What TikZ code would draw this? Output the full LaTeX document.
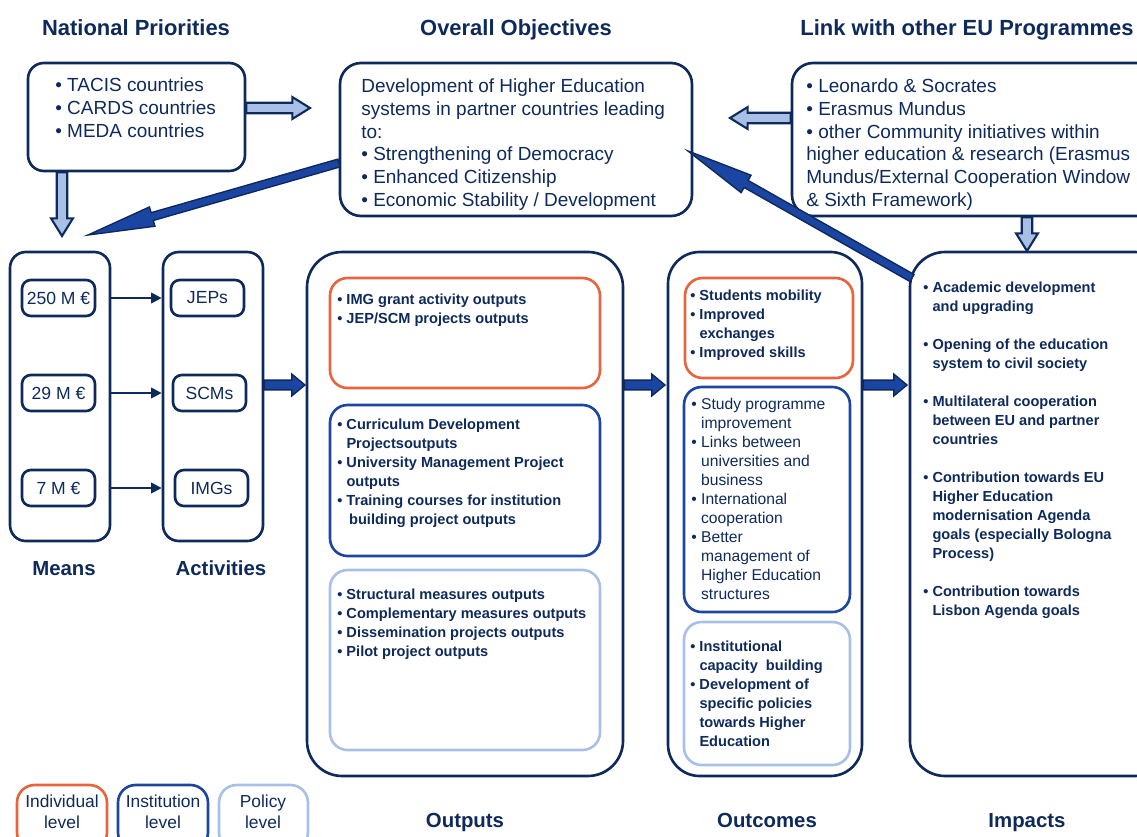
\documentclass[tikz,border=0pt]{standalone}
\usepackage{fontspec}
\setmainfont{Liberation Sans}
\usetikzlibrary{calc,fit,arrows.meta}

\definecolor{navy}{HTML}{0E2A5A}
\definecolor{indiv}{HTML}{E8643C}
\definecolor{instit}{HTML}{1E46A0}
\definecolor{policy}{HTML}{A9C0E6}
\definecolor{darkfill}{HTML}{1B45A3}
\definecolor{lightfill}{HTML}{A9C0E6}

% block arrow: style, from, to, half shaft, half head, head length
\newcommand{\blockarrow}[6]{%
  \coordinate (ba) at ($(#3)!#6!(#2)$);
  \draw[#1] ($(#2)!#4!90:(#3)$) -- ($(ba)!#4!90:(#3)$) -- ($(ba)!#5!90:(#3)$) -- (#3)
    -- ($(ba)!#5!-90:(#3)$) -- ($(ba)!#4!-90:(#3)$) -- ($(#2)!#4!-90:(#3)$) -- cycle;}
\newcommand{\bul}{\textbullet\ }
\newcommand{\ind}{\phantom{\textbullet\ }}

\begin{document}
\begin{tikzpicture}[x=0.02cm,y=-0.02cm,
  every node/.style={text=navy},
  title/.style={anchor=base,font=\fontsize{12.5}{15}\selectfont\bfseries},
  footer/.style={anchor=base,font=\fontsize{11.6}{14}\selectfont\bfseries},
  main box/.style={draw=navy,line width=1.5pt,rounded corners=9pt,inner sep=0pt},
  level box/.style={draw=#1,line width=1.5pt,rounded corners=10pt,inner sep=0pt},
  small box/.style={draw=navy,line width=1.5pt,rounded corners=5pt,minimum width=1.46cm,minimum height=0.72cm,inner sep=0pt,font=\fontsize{10}{12}\selectfont},
  list/.style={anchor=base west,align=left,inner sep=0pt,font=\fontsize{10.8}{12.9}\selectfont},
  small list/.style={anchor=base west,align=left,inner sep=0pt,font=\fontsize{8.3}{10.8}\selectfont\bfseries},
  legend/.style={align=center,inner sep=0pt,font=\fontsize{9.9}{12}\selectfont},
  light arrow/.style={fill=lightfill,draw=navy,line width=1.2pt},
  dark arrow/.style={fill=darkfill,draw=navy,line width=0.8pt},
  thin arrow/.style={draw=navy,line width=1.1pt,-{Triangle[length=6pt,width=6pt]}}]
  \useasboundingbox (0,0) rectangle (1137,836);
  \clip (0,0) rectangle (1137,836);

  % titles
  \node[title] (t1) at (136,35) {National Priorities};
  \node[title] (t2) at (516,35) {Overall Objectives};
  \node[title] (t3) at (967,35) {Link with other EU Programmes};

  % top row (list nodes sit on the baseline of their last line)
  \node[main box,fit={(28,63) (245,171)}] (natpri) {};
  \node[main box,rounded corners=12pt,fit={(340,63) (692,216)}] (obj) {};
  \node[main box,rounded corners=12pt,fit={(792,63) (1160,216)}] (link) {};
  \node[list] (natpritxt) at (55,137) {\bul TACIS countries\\\bul CARDS countries\\\bul MEDA countries};
  \node[list] (objtxt) at (361,206) {Development of Higher Education\\systems in partner countries leading\\to:\\\bul Strengthening of Democracy\\\bul Enhanced Citizenship\\\bul Economic Stability / Development};
  \node[list] (linktxt) at (806,206) {\bul Leonardo \& Socrates\\\bul Erasmus Mundus\\\bul other Community initiatives within\\higher education \& research (Erasmus\\Mundus/External Cooperation Window\\\& Sixth Framework)};

  % means and activities
  \node[main box,fit={(10,252) (110,541)}] (means) {};
  \node[main box,fit={(163,252) (263,541)}] (acts) {};
  \node[small box] (m1) at (58.5,298) {250 M €};
  \node[small box] (m2) at (58.5,393) {29 M €};
  \node[small box] (m3) at (58.5,488) {7 M €};
  \node[small box] (a1) at (207.5,298) {JEPs};
  \node[small box] (a2) at (209.5,393) {SCMs};
  \node[small box] (a3) at (211.5,488) {IMGs};
  \draw[thin arrow] (m1 -| means.east) -- (m1 -| acts.west);
  \draw[thin arrow] (m2 -| means.east) -- (m2 -| acts.west);
  \draw[thin arrow] (m3 -| means.east) -- (m3 -| acts.west);
  \node[footer] (meanslbl) at (64,575) {Means};
  \node[footer] (actslbl) at (221,575) {Activities};

  % outputs
  \node[main box,rounded corners=20pt,fit={(307,252) (623,776)}] (outputs) {};
  \node[level box=indiv,fit={(330,278) (600,388)}] (outind) {};
  \node[level box=instit,fit={(330,405) (600,556)}] (outinst) {};
  \node[level box=policy,fit={(330,570) (600,750)}] (outpol) {};
  \node[small list] (outindtxt) at (337,323) {\bul IMG grant activity outputs\\\bul JEP/SCM projects outputs};
  \node[small list] (outinsttxt) at (337,524) {\bul Curriculum Development\\\ind Projectsoutputs\\\bul University Management Project\\\ind outputs\\\bul Training courses for institution\\\ind\hspace{1.5pt}building project outputs};
  \node[small list] (outpoltxt) at (337,656) {\bul Structural measures outputs\\\bul Complementary measures outputs\\\bul Dissemination projects outputs\\\bul Pilot project outputs};
  \node[footer] (outputslbl) at (465,827) {Outputs};

  % outcomes
  \node[main box,rounded corners=18pt,fit={(668,252) (862,776)}] (outcomes) {};
  \node[level box=indiv,fit={(685,278) (853,378)}] (ocind) {};
  \node[level box=instit,fit={(684,387) (850,612)}] (ocinst) {};
  \node[level box=policy,fit={(684,622) (850,765)}] (ocpol) {};
  \node[small list] (ocindtxt) at (690,357) {\bul Students mobility\\\bul Improved\\\ind exchanges\\\bul Improved skills};
  \node[small list,font=\fontsize{8.9}{10.8}\selectfont] (ocinsttxt) at (691,599) {\bul Study programme\\\ind improvement\\\bul Links between\\\ind universities and\\\ind business\\\bul International\\\ind cooperation\\\bul Better\\\ind management of\\\ind Higher Education\\\ind structures};
  \node[small list] (ocpoltxt) at (690,746) {\bul Institutional\\\ind capacity\ \ building\\\bul Development of\\\ind specific policies\\\ind towards Higher\\\ind Education};
  \node[footer] (outcomeslbl) at (767,827) {Outcomes};

  % impacts
  \node[main box,rounded corners=20pt,fit={(910,252) (1170,776)}] (impacts) {};
  \node[small list] (imptxt) at (923,615) {\bul Academic development\\\ind and upgrading\\[10.8pt]\bul Opening of the education\\\ind system to civil society\\[10.8pt]\bul Multilateral cooperation\\\ind between EU and partner\\\ind countries\\[10.8pt]\bul Contribution towards EU\\\ind Higher Education\\\ind modernisation Agenda\\\ind goals (especially Bologna\\\ind Process)\\[10.8pt]\bul Contribution towards\\\ind Lisbon Agenda goals};
  \node[footer] (impactslbl) at (1027,827) {Impacts};

  % legend
  \node[level box=indiv,fit={(17,785) (107,850)}] (lgind) {};
  \node[level box=instit,fit={(118,785) (208,850)}] (lginst) {};
  \node[level box=policy,fit={(219,785) (308,850)}] (lgpol) {};
  \node[legend] (lgindtxt) at (62,812) {Individual\\level};
  \node[legend] (lginsttxt) at (163,812) {Institution\\level};
  \node[legend] (lgpoltxt) at (263,812) {Policy\\level};

  % block arrows
  \coordinate (np-tip) at (310,108);
  \coordinate (np-down) at (62,236);
  \coordinate (lk-tip) at (730,118);
  \coordinate (lk-down) at (1027,251);
  \blockarrow{light arrow}{natpri.east |- np-tip}{np-tip}{3pt}{6.2pt}{10pt}
  \blockarrow{light arrow}{natpri.south -| np-down}{np-down}{3pt}{6.2pt}{10pt}
  \blockarrow{light arrow}{link.west |- lk-tip}{lk-tip}{3pt}{6.2pt}{10pt}
  \blockarrow{light arrow}{link.south -| lk-down}{lk-down}{3pt}{6.2pt}{10pt}

  \coordinate (o1) at (305,385);
  \coordinate (o2) at (665,385);
  \coordinate (o3) at (907,385);
  \blockarrow{dark arrow}{acts.east |- o1}{o1}{2.8pt}{6.2pt}{7.5pt}
  \blockarrow{dark arrow}{outputs.east |- o2}{o2}{2.8pt}{6.2pt}{7.5pt}
  \blockarrow{dark arrow}{outcomes.east |- o3}{o3}{2.8pt}{6.2pt}{7.5pt}

  \coordinate (obj-out) at (339,163);
  \coordinate (means-in) at (88,235);
  \coordinate (imp-out) at (912,278);
  \coordinate (obj-in) at (688,151);
  \blockarrow{dark arrow}{obj-out}{means-in}{2.3pt}{5.7pt}{38pt}
  \blockarrow{dark arrow}{imp-out}{obj-in}{2.3pt}{5.7pt}{38pt}
\end{tikzpicture}
\end{document}
